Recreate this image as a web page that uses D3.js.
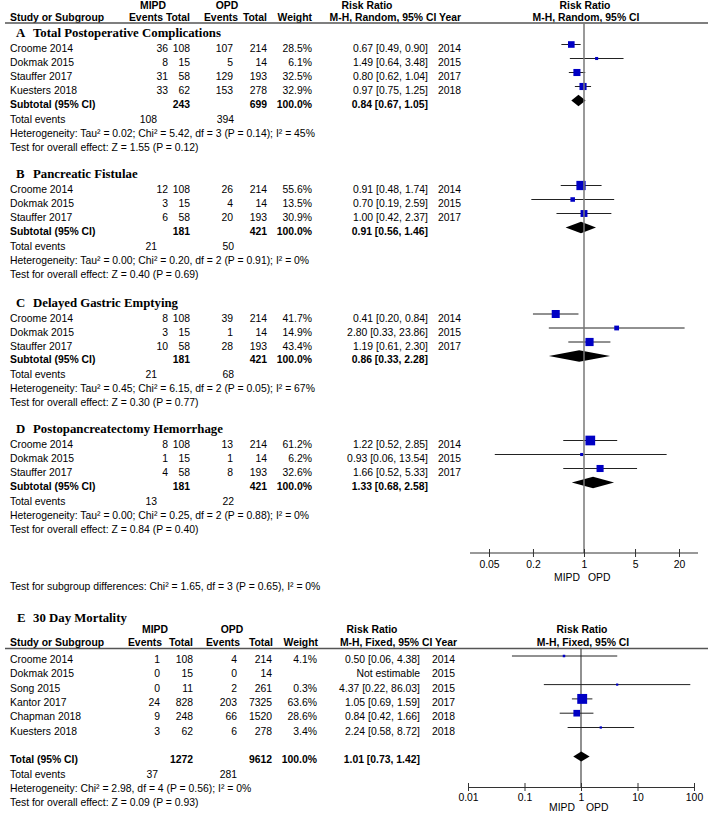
<!DOCTYPE html>
<html>
<head>
<meta charset="utf-8">
<script src="https://cdn.jsdelivr.net/npm/d3@7"></script>
<style>
  body { margin: 0; background: #fff; }
  text { font-family: "Liberation Sans", Arial, sans-serif; font-size: 10.4px; fill: #000; }
  .title { font-family: "Liberation Serif", "Times New Roman", serif; font-size: 12.8px; font-weight: bold; }
</style>
</head>
<body>
<div id="chart"></div>
<script>
// Data: subgroups A-D (random effects)
const panelLetters = ["A", "B", "C", "D"];
const panelTitles = [
  "Total Postoperative Complications",
  "Pancreatic Fistulae",
  "Delayed Gastric Emptying",
  "Postopancreatectomy Hemorrhage",
];
const studyNames = [
  ["Croome 2014", "Dokmak 2015", "Stauffer 2017", "Kuesters 2018"],
  ["Croome 2014", "Dokmak 2015", "Stauffer 2017"],
  ["Croome 2014", "Dokmak 2015", "Stauffer 2017"],
  ["Croome 2014", "Dokmak 2015", "Stauffer 2017"],
];
const studyYears = [
  [2014, 2015, 2017, 2018],
  [2014, 2015, 2017],
  [2014, 2015, 2017],
  [2014, 2015, 2017],
];
const mipdEvents = [[36, 8, 31, 33], [12, 3, 6], [8, 3, 10], [8, 1, 4]];
const mipdTotal = [[108, 15, 58, 62], [108, 15, 58], [108, 15, 58], [108, 15, 58]];
const opdEvents = [[107, 5, 129, 153], [26, 4, 20], [39, 1, 28], [13, 1, 8]];
const opdTotal = [[214, 14, 193, 278], [214, 14, 193], [214, 14, 193], [214, 14, 193]];
const weights = [[28.5, 6.1, 32.5, 32.9], [55.6, 13.5, 30.9], [41.7, 14.9, 43.4], [61.2, 6.2, 32.6]];
const riskRatio = [[0.67, 1.49, 0.80, 0.97], [0.91, 0.70, 1.00], [0.41, 2.80, 1.19], [1.22, 0.93, 1.66]];
const ciLow = [[0.49, 0.64, 0.62, 0.75], [0.48, 0.19, 0.42], [0.20, 0.33, 0.61], [0.52, 0.06, 0.52]];
const ciHigh = [[0.90, 3.48, 1.04, 1.25], [1.74, 2.59, 2.37], [0.84, 23.86, 2.30], [2.85, 13.54, 5.33]];
const subMipdTotal = [243, 181, 181, 181];
const subOpdTotal = [699, 421, 421, 421];
const subRR = [0.84, 0.91, 0.86, 1.33];
const subLow = [0.67, 0.56, 0.33, 0.68];
const subHigh = [1.05, 1.46, 2.28, 2.58];
const totalEventsMipd = [108, 21, 21, 13];
const totalEventsOpd = [394, 50, 68, 22];
const heterogeneity = [
  "Heterogeneity: Tau² = 0.02; Chi² = 5.42, df = 3 (P = 0.14); I² = 45%",
  "Heterogeneity: Tau² = 0.00; Chi² = 0.20, df = 2 (P = 0.91); I² = 0%",
  "Heterogeneity: Tau² = 0.45; Chi² = 6.15, df = 2 (P = 0.05); I² = 67%",
  "Heterogeneity: Tau² = 0.00; Chi² = 0.25, df = 2 (P = 0.88); I² = 0%",
];
const overallEffect = [
  "Test for overall effect: Z = 1.55 (P = 0.12)",
  "Test for overall effect: Z = 0.40 (P = 0.69)",
  "Test for overall effect: Z = 0.30 (P = 0.77)",
  "Test for overall effect: Z = 0.84 (P = 0.40)",
];
const subgroupTest = "Test for subgroup differences: Chi² = 1.65, df = 3 (P = 0.65), I² = 0%";
const ticksTop = [0.05, 0.2, 1, 5, 20];

// Data: E 30 day mortality (fixed effect)
const mortNames = ["Croome 2014", "Dokmak 2015", "Song 2015", "Kantor 2017", "Chapman 2018", "Kuesters 2018"];
const mortYears = [2014, 2015, 2015, 2017, 2018, 2018];
const mortMipdEvents = [1, 0, 0, 24, 9, 3];
const mortMipdTotal = [108, 15, 11, 828, 248, 62];
const mortOpdEvents = [4, 0, 2, 203, 66, 6];
const mortOpdTotal = [214, 14, 261, 7325, 1520, 278];
const mortWeights = [4.1, null, 0.3, 63.6, 28.6, 3.4];
const mortRR = [0.50, null, 4.37, 1.05, 0.84, 2.24];
const mortLow = [0.06, null, 0.22, 0.69, 0.42, 0.58];
const mortHigh = [4.38, null, 86.03, 1.59, 1.66, 8.72];
const mortTotal = { mipd: 1272, opd: 9612, rr: 1.01, low: 0.73, high: 1.42, evMipd: 37, evOpd: 281 };
const mortHeterogeneity = "Heterogeneity: Chi² = 2.98, df = 4 (P = 0.56); I² = 0%";
const mortEffect = "Test for overall effect: Z = 0.09 (P = 0.93)";
const ticksBottom = [0.01, 0.1, 1, 10, 100];

function draw() {
  const width = 708, height = 814;
  const svg = d3.select("#chart").append("svg")
    .attr("width", width).attr("height", height);

  const f2 = d3.format(".2f");
  const ciText = (r, l, h) => `${f2(r)} [${f2(l)}, ${f2(h)}]`;
  const blue = "#0000c4";

  function label(x, y, s, anchor = "start", bold = false, cls = null) {
    return svg.append("text")
      .attr("x", x).attr("y", y)
      .attr("text-anchor", anchor)
      .attr("font-weight", bold ? "bold" : null)
      .attr("class", cls)
      .text(s);
  }

  const boxScale = d3.scaleSqrt().domain([0, 100]).range([0, 12.4]);

  function studyMark(x, y, rr, lo, hi, w) {
    svg.append("line")
      .attr("x1", x(lo)).attr("x2", x(hi))
      .attr("y1", y).attr("y2", y)
      .attr("stroke", "#222").attr("stroke-width", 1);
    const s = Math.max(2.2, boxScale(w));
    svg.append("rect")
      .attr("x", x(rr) - s / 2).attr("y", y - s / 2)
      .attr("width", s).attr("height", s)
      .attr("fill", blue);
  }

  function diamond(x, y, rr, lo, hi, h) {
    svg.append("path")
      .attr("d", `M${x(lo)},${y}L${x(rr)},${y - h}L${x(hi)},${y}L${x(rr)},${y + h}Z`)
      .attr("fill", "#000");
  }

  // ---------- Top figure (A-D) ----------
  const colTop = { study: 10, mEv: 168, mTot: 190, oEv: 233, oTot: 267, wt: 312, rr: 428, yr: 438, teM: 157, teO: 234 };
  const xTop = d3.scaleLog().domain([0.05, 20]).range([489, 679]);

  // header
  label(153, 8.5, "MIPD", "middle", true);
  label(227, 8.5, "OPD", "middle", true);
  label(367, 8.5, "Risk Ratio", "middle", true);
  label(585, 8.5, "Risk Ratio", "middle", true);
  label(10, 20.5, "Study or Subgroup", "start", true);
  label(163, 20.5, "Events", "end", true);
  label(190, 20.5, "Total", "end", true);
  label(238, 20.5, "Events", "end", true);
  label(267, 20.5, "Total", "end", true);
  label(312, 20.5, "Weight", "end", true);
  label(461, 20.5, "M-H, Random, 95% CI Year", "end", true);
  label(586, 20.5, "M-H, Random, 95% CI", "middle", true);
  svg.append("line")
    .attr("x1", 5).attr("x2", width).attr("y1", 23).attr("y2", 23)
    .attr("stroke", "#555").attr("stroke-width", 1.5);

  const titleBase = [37, 178, 306.5, 433];
  const rowStep = 14;

  panelTitles.forEach((title, p) => {
    const t = titleBase[p];
    label(16, t, panelLetters[p], "start", false, "title");
    label(33, t, title, "start", false, "title");
    let y = t + 15;
    studyNames[p].forEach((name, i) => {
      label(colTop.study, y, name);
      label(colTop.mEv, y, mipdEvents[p][i], "end");
      label(colTop.mTot, y, mipdTotal[p][i], "end");
      label(colTop.oEv, y, opdEvents[p][i], "end");
      label(colTop.oTot, y, opdTotal[p][i], "end");
      label(colTop.wt, y, weights[p][i].toFixed(1) + "%", "end");
      label(colTop.rr, y, ciText(riskRatio[p][i], ciLow[p][i], ciHigh[p][i]), "end");
      label(colTop.yr, y, studyYears[p][i]);
      studyMark(xTop, y - 7.5, riskRatio[p][i], ciLow[p][i], ciHigh[p][i], weights[p][i]);
      y += rowStep;
    });
    y -= 0.2;
    label(colTop.study, y, "Subtotal (95% CI)", "start", true);
    label(colTop.mTot, y, subMipdTotal[p], "end", true);
    label(colTop.oTot, y, subOpdTotal[p], "end", true);
    label(colTop.wt, y, "100.0%", "end", true);
    label(colTop.rr, y, ciText(subRR[p], subLow[p], subHigh[p]), "end", true);
    diamond(xTop, y - 7.3, subRR[p], subLow[p], subHigh[p], 5.8);
    y += 14.8;
    label(colTop.study, y, "Total events");
    label(colTop.teM, y, totalEventsMipd[p], "end");
    label(colTop.teO, y, totalEventsOpd[p], "end");
    y += 14;
    label(colTop.study, y, heterogeneity[p]);
    y += 14.3;
    label(colTop.study, y, overallEffect[p]);
  });

  label(colTop.study, 589.5, subgroupTest);

  // null line + axis (top)
  svg.append("line")
    .attr("x1", xTop(1)).attr("x2", xTop(1)).attr("y1", 23).attr("y2", 553)
    .attr("stroke", "#777").attr("stroke-width", 1.5);

  const axisTop = svg.append("g").attr("transform", "translate(0,553)");
  axisTop.append("line")
    .attr("x1", 470).attr("x2", 698).attr("stroke", "#333").attr("stroke-width", 1);
  axisTop.call(
    d3.axisBottom(xTop).tickValues(ticksTop).tickFormat(d3.format("~g")).tickSize(0).tickPadding(0)
  );
  axisTop.select(".domain").remove();
  axisTop.selectAll(".tick line").attr("y1", -4).attr("y2", 4).attr("stroke", "#333");
  axisTop.selectAll(".tick text").attr("dy", null).attr("y", 15)
    .style("font-family", '"Liberation Sans", Arial, sans-serif').style("font-size", "10.4px");
  label(xTop(1) - 4, 580.5, "MIPD", "end");
  label(xTop(1) + 4, 580.5, "OPD", "start");

  // ---------- Bottom figure (E) ----------
  const colE = { study: 10, mEv: 160, mTot: 193, oEv: 237, oTot: 272, wt: 317, rr: 420, yr: 432, teM: 158, teO: 237 };
  const xBot = d3.scaleLog().domain([0.01, 100]).range([468, 694]);

  label(17, 622, "E", "start", false, "title");
  label(33, 622, "30 Day Mortality", "start", false, "title");
  label(155, 633, "MIPD", "middle", true);
  label(232, 633, "OPD", "middle", true);
  label(372, 633, "Risk Ratio", "middle", true);
  label(582, 633, "Risk Ratio", "middle", true);
  label(10, 646, "Study or Subgroup", "start", true);
  label(162, 646, "Events", "end", true);
  label(193, 646, "Total", "end", true);
  label(240, 646, "Events", "end", true);
  label(273, 646, "Total", "end", true);
  label(318, 646, "Weight", "end", true);
  label(457, 646, "M-H, Fixed, 95% CI Year", "end", true);
  label(583, 646, "M-H, Fixed, 95% CI", "middle", true);
  svg.append("line")
    .attr("x1", 5).attr("x2", width).attr("y1", 648.5).attr("y2", 648.5)
    .attr("stroke", "#555").attr("stroke-width", 1.5);

  svg.append("line")
    .attr("x1", xBot(1)).attr("x2", xBot(1)).attr("y1", 648.5).attr("y2", 787)
    .attr("stroke", "#555").attr("stroke-width", 1.3);

  let ye = 663;
  mortNames.forEach((name, i) => {
    label(colE.study, ye, name);
    label(colE.mEv, ye, mortMipdEvents[i], "end");
    label(colE.mTot, ye, mortMipdTotal[i], "end");
    label(colE.oEv, ye, mortOpdEvents[i], "end");
    label(colE.oTot, ye, mortOpdTotal[i], "end");
    if (mortRR[i] !== null) {
      label(colE.wt, ye, mortWeights[i].toFixed(1) + "%", "end");
      label(colE.rr, ye, ciText(mortRR[i], mortLow[i], mortHigh[i]), "end");
      studyMark(xBot, ye - 7, mortRR[i], mortLow[i], mortHigh[i], mortWeights[i]);
    } else {
      label(colE.rr, ye, "Not estimable", "end");
    }
    label(colE.yr, ye, mortYears[i]);
    ye += 14.3;
  });
  ye = 763;
  label(colE.study, ye, "Total (95% CI)", "start", true);
  label(colE.mTot, ye, mortTotal.mipd, "end", true);
  label(colE.oTot, ye, mortTotal.opd, "end", true);
  label(colE.wt, ye, "100.0%", "end", true);
  label(colE.rr, ye, ciText(mortTotal.rr, mortTotal.low, mortTotal.high), "end", true);
  diamond(xBot, ye - 6.5, mortTotal.rr, mortTotal.low, mortTotal.high, 5);
  label(colE.study, 777.5, "Total events");
  label(colE.teM, 777.5, mortTotal.evMipd, "end");
  label(colE.teO, 777.5, mortTotal.evOpd, "end");
  label(colE.study, 791.5, mortHeterogeneity);
  label(colE.study, 805.5, mortEffect);

  const axisBot = svg.append("g").attr("transform", "translate(0,787)");
  axisBot.call(
    d3.axisBottom(xBot).tickValues(ticksBottom).tickFormat(d3.format("~g")).tickSize(0).tickPadding(0)
  );
  axisBot.select(".domain").attr("stroke", "#333");
  axisBot.selectAll(".tick line").attr("y1", -4).attr("y2", 4).attr("stroke", "#333");
  axisBot.selectAll(".tick text").attr("dy", null).attr("y", 13.5)
    .style("font-family", '"Liberation Sans", Arial, sans-serif').style("font-size", "10.4px");
  label(xBot(1) - 6, 810.5, "MIPD", "end");
  label(xBot(1) + 5, 810.5, "OPD", "start");
}

draw();
</script>
</body>
</html>
